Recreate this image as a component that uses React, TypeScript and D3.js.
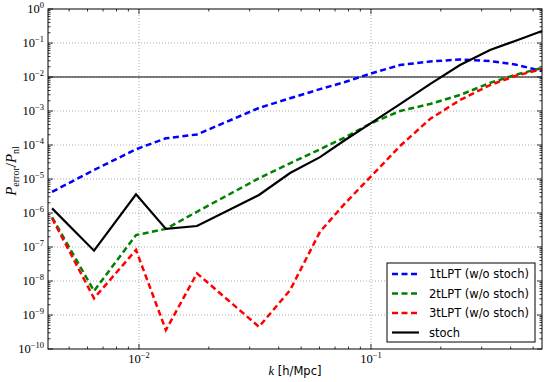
import React, { useEffect, useRef } from 'react';
import * as d3 from 'd3';

// k values [h/Mpc] shared by all curves
const kValues = [
  0.00422, 0.0064, 0.00971, 0.01306, 0.01778, 0.0329, 0.0448, 0.0603,
  0.0773, 0.1, 0.1334, 0.1796, 0.242, 0.326, 0.418, 0.546,
];

const lpt1 = [
  4.2e-6, 1.84e-5, 7.5e-5, 1.57e-4, 2.04e-4, 1.23e-3, 2.37e-3, 4.4e-3,
  7.1e-3, 1.27e-2, 2.25e-2, 2.86e-2, 3.27e-2, 2.95e-2, 2.33e-2, 1.5e-2,
];
const lpt2 = [
  7.5e-7, 5.1e-9, 2.25e-7, 3.4e-7, 1.09e-6, 1.05e-5, 2.9e-5, 7.5e-5,
  1.68e-4, 4.35e-4, 1.0e-3, 1.6e-3, 2.95e-3, 6.7e-3, 1.15e-2, 1.84e-2,
];
const lpt3 = [
  7.0e-7, 3.1e-9, 8.2e-8, 3.6e-10, 1.68e-8, 4.5e-10, 5.4e-9, 2.8e-7,
  1.93e-6, 1.19e-5, 9.3e-5, 5.8e-4, 2.1e-3, 5.8e-3, 1.07e-2, 1.72e-2,
];
const stoch = [
  1.37e-6, 7.8e-8, 3.55e-6, 3.4e-7, 4.15e-7, 3.4e-6, 1.5e-5, 4.4e-5,
  1.4e-4, 4.4e-4, 1.6e-3, 6.2e-3, 2.25e-2, 6.2e-2, 0.115, 0.225,
];

const seriesNames = ['1tLPT (w/o stoch)', '2tLPT (w/o stoch)', '3tLPT (w/o stoch)', 'stoch'];
const seriesColors = ['#0000ff', '#008000', '#ff0000', '#000000'];
const seriesValues = [lpt1, lpt2, lpt3, stoch];

const yTickExps = [-10, -9, -8, -7, -6, -5, -4, -3, -2, -1, 0];
const xTickExps = [-2, -1];
const refLevel = 1e-2;

const App = () => {
  const svgRef = useRef<SVGSVGElement>(null);

  useEffect(() => {
    const W = 545, H = 382;
    const margin = { top: 9, right: 3, bottom: 33, left: 48 };
    const width = W - margin.left - margin.right;
    const height = H - margin.top - margin.bottom;

    d3.select(svgRef.current).selectAll('*').remove();
    const svg = d3.select(svgRef.current)
      .attr('width', W)
      .attr('height', H)
      .append('g')
      .attr('transform', `translate(${margin.left},${margin.top})`);

    const x = d3.scaleLog().domain([0.004053, 0.546]).range([0, width]);
    const y = d3.scaleLog().domain([1e-10, 1]).range([height, 0]);

    // grid
    const grid = svg.append('g');
    yTickExps.slice(1, -1).forEach(e => {
      grid.append('line')
        .attr('x1', 0).attr('x2', width)
        .attr('y1', y(10 ** e)).attr('y2', y(10 ** e))
        .attr('stroke', '#aaaaaa').attr('stroke-width', 1)
        .attr('stroke-dasharray', '1,2');
    });
    xTickExps.forEach(e => {
      grid.append('line')
        .attr('x1', x(10 ** e)).attr('x2', x(10 ** e))
        .attr('y1', 0).attr('y2', height)
        .attr('stroke', '#aaaaaa').attr('stroke-width', 1)
        .attr('stroke-dasharray', '1,2');
    });

    // reference line at 1e-2
    svg.append('line')
      .attr('x1', 0).attr('x2', width)
      .attr('y1', y(refLevel)).attr('y2', y(refLevel))
      .attr('stroke', '#000').attr('stroke-width', 1);

    // ticks (inside, all four sides)
    const ticks = svg.append('g').attr('stroke', '#000').attr('stroke-width', 0.8);
    for (let e = -10; e <= 0; e++) {
      for (let m = 1; m <= 9; m++) {
        const v = m * 10 ** e;
        if (v > 1) continue;
        const len = m === 1 ? 5 : 2.5;
        ticks.append('line').attr('x1', 0).attr('x2', len).attr('y1', y(v)).attr('y2', y(v));
        ticks.append('line').attr('x1', width).attr('x2', width - len).attr('y1', y(v)).attr('y2', y(v));
      }
    }
    for (let e = -3; e <= 0; e++) {
      for (let m = 1; m <= 9; m++) {
        const v = m * 10 ** e;
        if (v < x.domain()[0] || v > x.domain()[1]) continue;
        const len = m === 1 ? 5 : 2.5;
        ticks.append('line').attr('x1', x(v)).attr('x2', x(v)).attr('y1', height).attr('y2', height - len);
        ticks.append('line').attr('x1', x(v)).attr('x2', x(v)).attr('y1', 0).attr('y2', len);
      }
    }

    // curves
    const line = d3.line<number>()
      .x((_, i) => x(kValues[i]))
      .y(d => y(d));
    seriesValues.forEach((vals, i) => {
      svg.append('path')
        .datum(vals)
        .attr('d', line)
        .attr('fill', 'none')
        .attr('stroke', seriesColors[i])
        .attr('stroke-width', i === 3 ? 2.2 : 2.5)
        .attr('stroke-dasharray', i === 3 ? null : '6,3.5');
    });

    // frame
    svg.append('rect')
      .attr('width', width).attr('height', height)
      .attr('fill', 'none').attr('stroke', '#000').attr('stroke-width', 1);

    // tick labels
    const serif = 'Liberation Serif, DejaVu Serif, serif';
    yTickExps.forEach(e => {
      const t = svg.append('text')
        .attr('x', -4).attr('y', y(10 ** e) + 4)
        .attr('text-anchor', 'end')
        .style('font-family', serif).style('font-size', '12.5px');
      t.append('tspan').text('10');
      t.append('tspan').attr('dy', -5).style('font-size', '8.5px').text(e === 0 ? '0' : `\u2212${-e}`);
    });
    xTickExps.forEach(e => {
      const t = svg.append('text')
        .attr('x', x(10 ** e)).attr('y', height + 14)
        .attr('text-anchor', 'middle')
        .style('font-family', serif).style('font-size', '12.5px');
      t.append('tspan').text('10');
      t.append('tspan').attr('dy', -5).style('font-size', '8.5px').text(`\u2212${-e}`);
    });

    // axis labels
    const xl = svg.append('text')
      .attr('x', width / 2).attr('y', height + 26)
      .attr('text-anchor', 'middle')
      .style('font-size', '11.5px');
    xl.append('tspan').style('font-family', serif).style('font-style', 'italic').style('font-size', '12.5px').text('k');
    xl.append('tspan').style('font-family', 'DejaVu Sans, sans-serif').text(' [h/Mpc]');

    const yl = svg.append('text')
      .attr('transform', `translate(${-32},${height / 2 - 8}) rotate(-90)`)
      .attr('text-anchor', 'middle')
      .style('font-family', serif).style('font-size', '15px');
    yl.append('tspan').style('font-style', 'italic').text('P');
    yl.append('tspan').attr('dy', 3).style('font-size', '10px').text('error');
    yl.append('tspan').attr('dy', -3).text('/');
    yl.append('tspan').style('font-style', 'italic').text('P');
    yl.append('tspan').attr('dy', 3).style('font-size', '10px').text('nl');

    // legend
    const lg = svg.append('g').attr('transform', `translate(${387 - margin.left},${263 - margin.top})`);
    lg.append('rect')
      .attr('width', 148).attr('height', 79)
      .attr('fill', '#fff').attr('stroke', '#000').attr('stroke-width', 1);
    seriesNames.forEach((name, i) => {
      const yy = 11 + i * 19.5;
      lg.append('line')
        .attr('x1', 5).attr('x2', 32)
        .attr('y1', yy).attr('y2', yy)
        .attr('stroke', seriesColors[i])
        .attr('stroke-width', i === 3 ? 2.2 : 2.5)
        .attr('stroke-dasharray', i === 3 ? null : '6,3.5');
      lg.append('text')
        .attr('x', 42).attr('y', yy + 4)
        .style('font-family', 'DejaVu Sans, sans-serif').style('font-size', '11.5px')
        .text(name);
    });
  }, []);

  return (
    <div style={{ position: 'absolute', left: 0, top: 0 }}>
      <svg ref={svgRef}></svg>
    </div>
  );
};

export default App;
